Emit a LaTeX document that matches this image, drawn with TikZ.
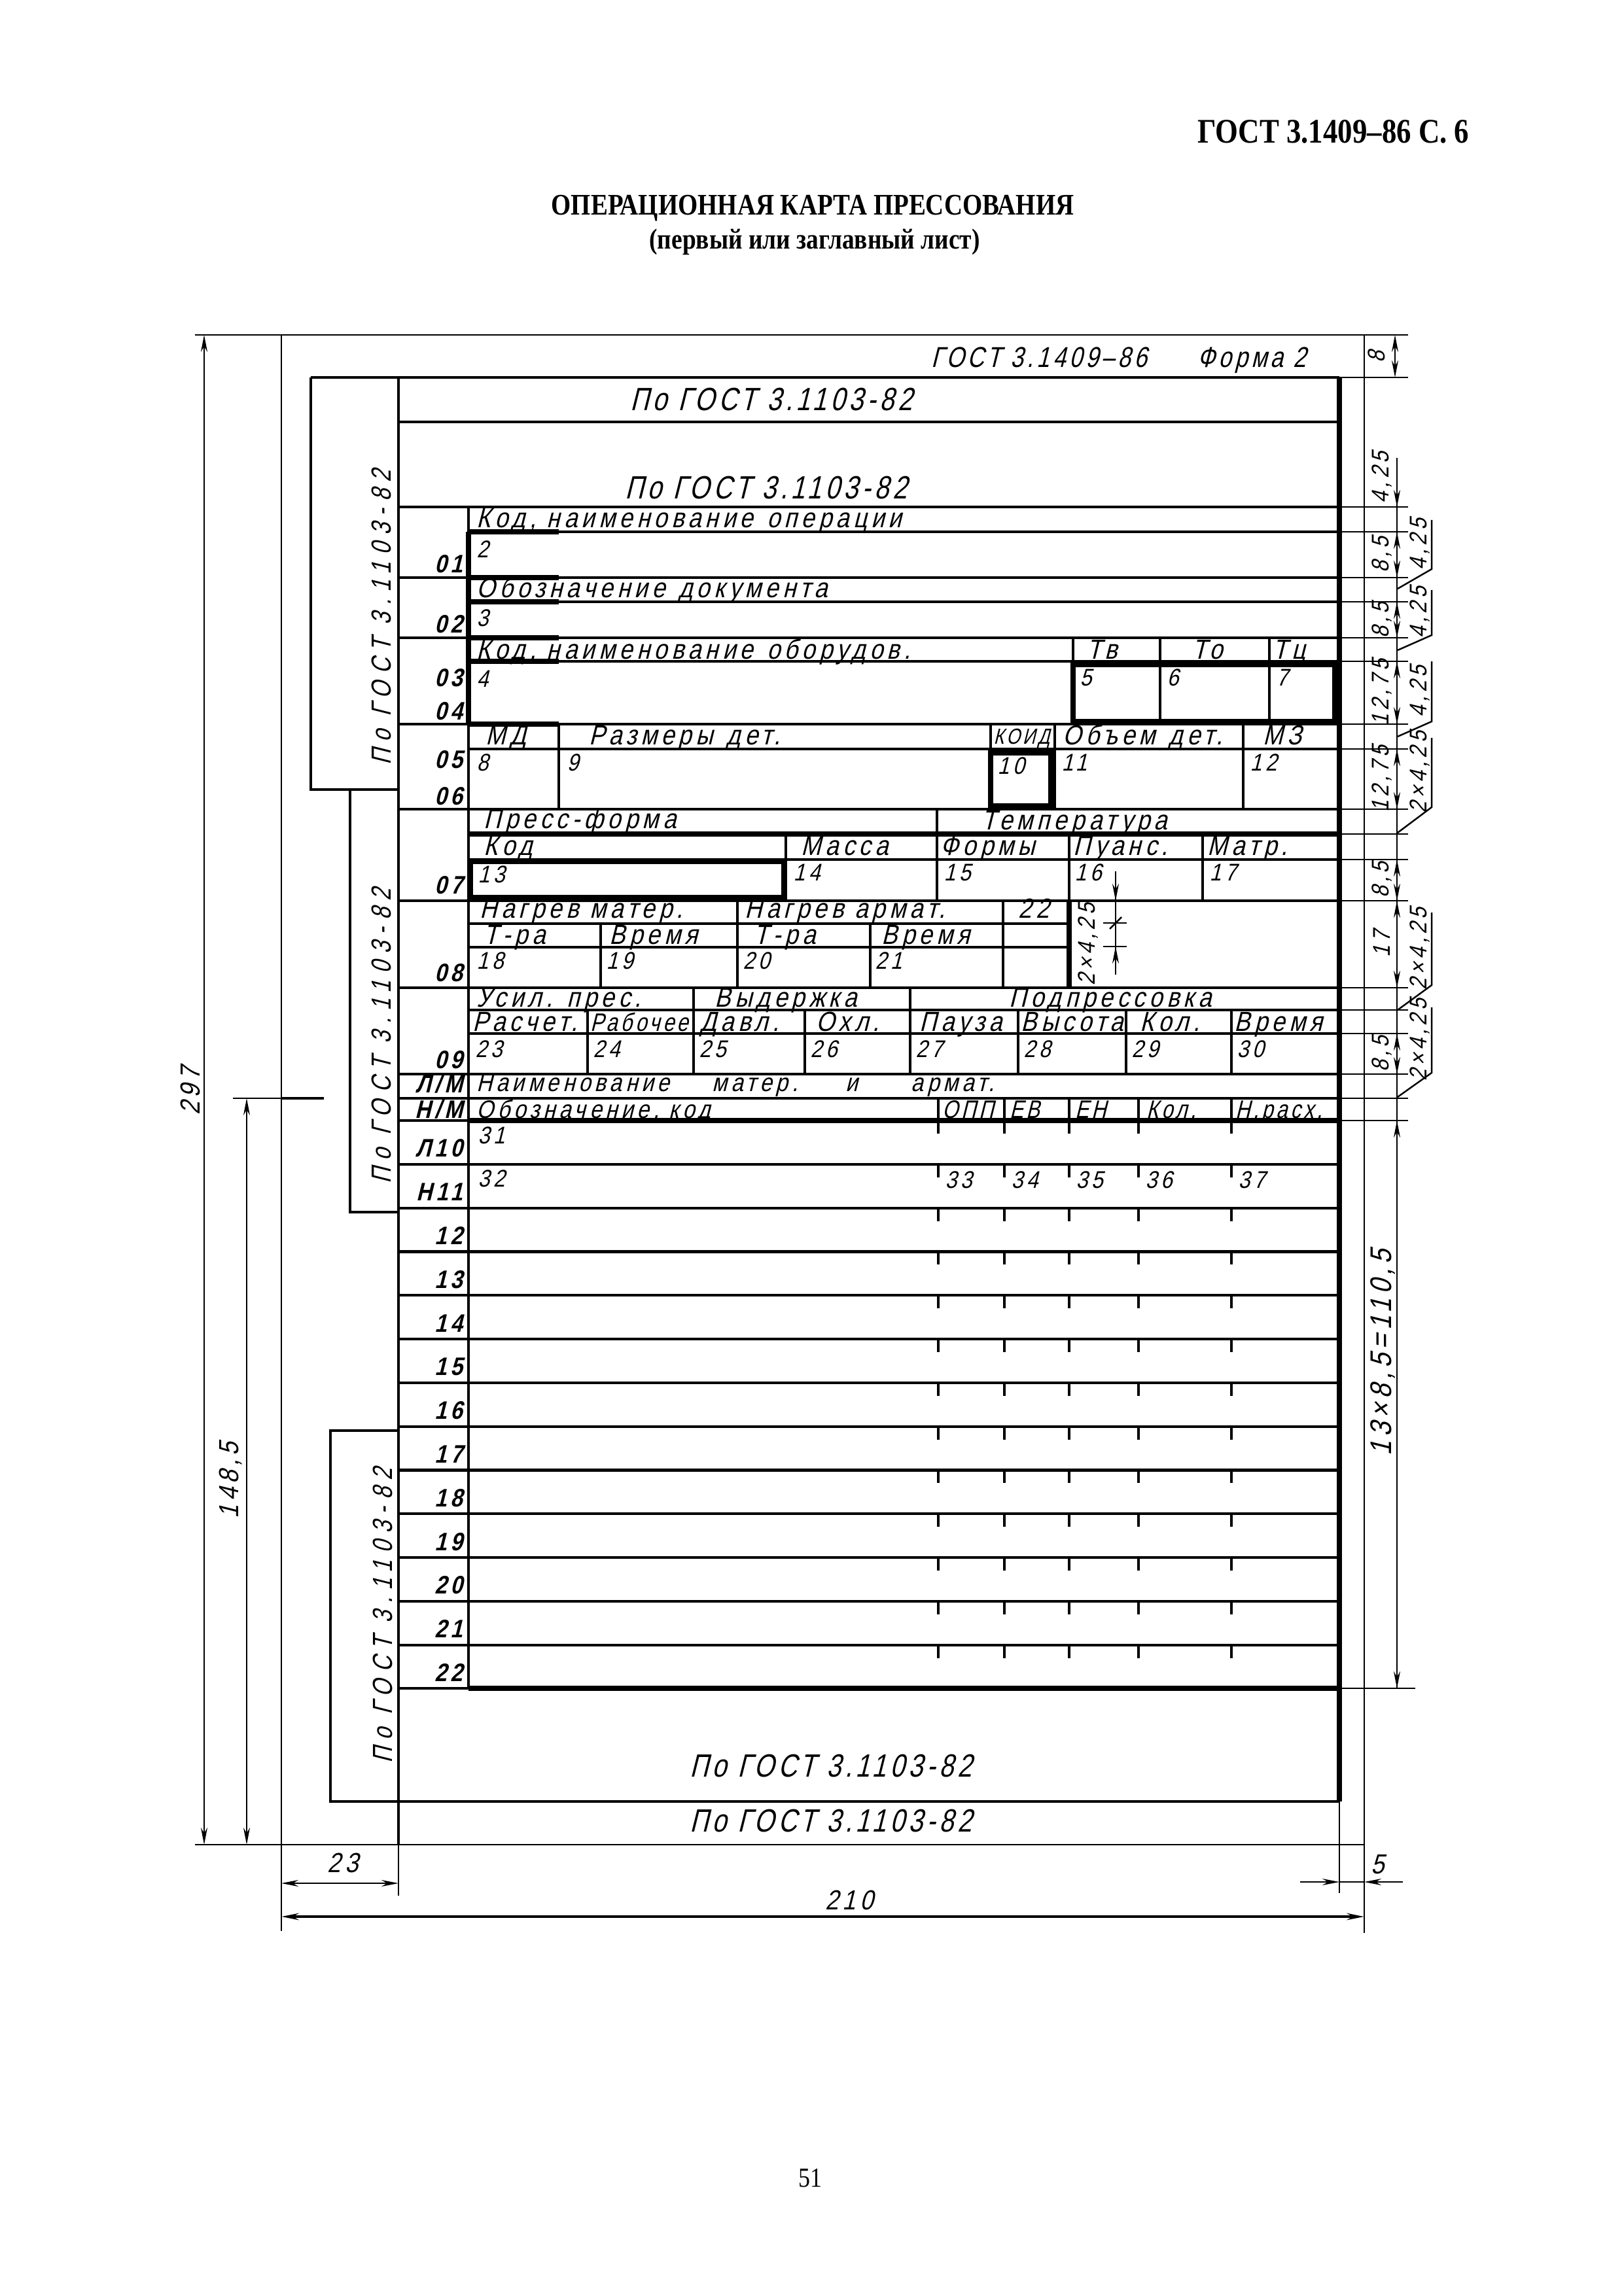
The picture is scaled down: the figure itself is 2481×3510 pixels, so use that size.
\documentclass[tikz,border=0pt]{standalone}
\usepackage{fontspec}
\setmainfont{Liberation Serif}
\newfontfamily\gost[FakeSlant=0.25,FakeStretch=0.86,LetterSpace=15]{Liberation Sans}
\newfontfamily\gostn[FakeSlant=0.25,FakeStretch=0.8,LetterSpace=12]{Liberation Sans}
\newfontfamily\gostw[FakeSlant=0.25,FakeStretch=0.8,LetterSpace=26]{Liberation Sans}
\newfontfamily\hdr[FakeStretch=0.85]{Liberation Serif}
\usetikzlibrary{arrows.meta}

\begin{document}
\begin{tikzpicture}[x=0.01cm, y=-0.01cm,
    frm/.style={line width=0.7pt},
    ln/.style={line width=1.2pt},
    fat/.style={line width=2.2pt},
    cell/.style={font=\gost\fontsize{12}{12}\selectfont, inner sep=0pt, anchor=base west},
    tight/.style={cell, font=\gostn\fontsize{11.5}{12}\selectfont},
    low/.style={cell, font=\gost\fontsize{11}{11}\selectfont},
    num/.style={font=\gost\fontsize{10.5}{11}\selectfont, inner sep=0pt, anchor=north west},
    rowno/.style={font=\gost\bfseries\fontsize{11}{11}\selectfont, inner sep=0pt, anchor=base east},
    big/.style={font=\gostn\fontsize{14}{15}\selectfont, inner sep=0pt, anchor=base west},
    stamp/.style={font=\gostw\fontsize{12}{13}\selectfont, inner sep=0pt, rotate=90},
    dimtxt/.style={font=\gost\fontsize{10.5}{11}\selectfont, inner sep=0pt, rotate=90},
    outtxt/.style={font=\gost\fontsize{12}{13}\selectfont, inner sep=0pt},
    dimarr/.style={frm, {Stealth[length=2.6mm,width=1mm]}-{Stealth[length=2.6mm,width=1mm]}},
    tip/.style={frm, -{Stealth[length=2.6mm,width=1mm]}}
]
    \useasboundingbox (0,0) rectangle (2481,3510);

    % page heading
    \node[font=\hdr\bfseries\fontsize{15}{16}\selectfont, anchor=east, inner sep=0pt] (pagehead) at (2246,201) {ГОСТ 3.1409–86 С. 6};
    \node[font=\hdr\bfseries\fontsize{13}{14}\selectfont, inner sep=0pt] (title) at (1242,318) {ОПЕРАЦИОННАЯ КАРТА ПРЕССОВАНИЯ};
    \node[font=\hdr\bfseries\fontsize{12.5}{13}\selectfont, inner sep=0pt] (subtitle) at (1245,370) {(первый или заглавный лист)};
    \node[font=\hdr\fontsize{12}{13}\selectfont, inner sep=0pt] (pageno) at (1238,3330) {51};

    % sheet frame
    \draw[frm] (298,512) -- (2152,512);
    \draw[frm] (430,512) -- (430,2952);
    \draw[frm] (2085,512) -- (2085,2955);
    \draw[frm] (298,2820) -- (2085,2820);

    % form body
    \draw[ln] (475,577) -- (2047,577);
    \draw[frm] (2047,577) -- (2152,577);
    \draw[fat] (2047,577) -- (2047,2754);
    \draw[frm] (2047,2754) -- (2047,2894);
    \draw[ln] (609,577) -- (609,2820);
    \draw[frm] (609,2820) -- (609,2898);

    % side stamps
    \draw[ln] (475,577) -- (475,1207) -- (609,1207);
    \draw[ln] (535,1207) -- (535,1853) -- (609,1853);
    \draw[ln] (609,2187) -- (505,2187) -- (505,2754) -- (2047,2754);
    \node[stamp] (stamp1) at (583,944) {По ГОСТ 3.1103-82};
    \node[stamp] (stamp2) at (583,1584) {По ГОСТ 3.1103-82};
    \node[stamp] (stamp3) at (585,2470) {По ГОСТ 3.1103-82};

    % horizontal rules
    \draw[ln] (609,645) -- (2047,645);
    \foreach \y in {775,883,975,1107,1237,1377,1510,1642,1679} {
        \draw[ln] (609,\y) -- (2047,\y);
        \draw[frm] (2047,\y) -- (2152,\y);
    }
    \foreach \y in {813,920,1011,1145,1314,1544,1580} {
        \draw[ln] (716,\y) -- (2047,\y);
        \draw[frm] (2047,\y) -- (2152,\y);
    }
    \draw[fat] (716,1275) -- (2047,1275);
    \draw[frm] (2047,1275) -- (2152,1275);
    \draw[ln] (716,1412) -- (1634,1412);
    \draw[ln] (716,1448) -- (1634,1448);
    \foreach \y in {813,883,920,975,1011,1107}
        \draw[fat] (716,\y) -- (854,\y);
    \draw[ln] (609,1713) -- (716,1713);
    \draw[fat] (716,1713) -- (2047,1713);
    \draw[frm] (2047,1713) -- (2152,1713);
    \draw[ln] (609,2581) -- (716,2581);
    \draw[fat] (716,2581) -- (2047,2581);
    \draw[frm] (2047,2581) -- (2163,2581);

    % label column
    \draw[ln] (716,775) -- (716,2581);
    \draw[fat] (716,813) -- (716,1107);

    % cells 03-06
    \draw[ln] (1640,975) -- (1640,1011) (1773,975) -- (1773,1011) (1940,975) -- (1940,1011);
    \draw[fat] (1640,1016) rectangle (2040,1103);
    \draw[ln] (1773,1016) -- (1773,1103) (1940,1016) -- (1940,1103);
    \draw[ln] (854,1107) -- (854,1237) (1514,1107) -- (1514,1145)
              (1612,1107) -- (1612,1237) (1900,1107) -- (1900,1237);
    \draw[fat] (1514,1151) rectangle (1606,1232);

    % cells 07
    \draw[ln] (1432,1237) -- (1432,1377) (1201,1275) -- (1201,1377)
              (1634,1275) -- (1634,1377) (1838,1275) -- (1838,1377);
    \draw[fat] (719,1317) rectangle (1198,1372);

    % cells 08
    \draw[ln] (1127,1377) -- (1127,1510) (918,1412) -- (918,1510)
              (1330,1412) -- (1330,1510) (1533,1377) -- (1533,1510);
    \draw[fat] (1634,1377) -- (1634,1510);

    % cells 09
    \draw[ln] (1060,1510) -- (1060,1642) (1391,1510) -- (1391,1642);
    \foreach \x in {898,1230,1556,1721,1882}
        \draw[ln] (\x,1544) -- (\x,1642);

    % material header
    \foreach \x in {1434,1535,1634,1740,1882}
        \draw[ln] (\x,1679) -- (\x,1713);

    % material rows
    \foreach \k/\lab in {0/Л10,1/Н11,2/12,3/13,4/14,5/15,6/16,7/17,8/18,9/19,10/20,11/21,12/22} {
        \pgfmathsetmacro\yb{1713+66.8*(\k+1)}
        \node[rowno] (row\k) at (708,\yb-11) {\lab};
        \foreach \tx in {1434,1535,1634,1740,1882}
            \draw[ln] (\tx,1713+66.8*\k) -- ++(0,20);
        \ifnum\k<12 \draw[ln] (609,\yb) -- (2047,\yb); \fi
    }

    % texts of the form
    \node[cell, font=\gostn\fontsize{12.5}{13}\selectfont] (gosthead) at (1423,562) {ГОСТ 3.1409–86};
    \node[cell, font=\gostn\fontsize{12.5}{13}\selectfont] (formno) at (1830,562) {Форма 2};
    \node[big] (ref1) at (963,628) {По ГОСТ 3.1103-82};
    \node[big] (ref2) at (955,762) {По ГОСТ 3.1103-82};
    \node[big] (ref3) at (1054,2716) {По ГОСТ 3.1103-82};
    \node[big] (ref4) at (1054,2800) {По ГОСТ 3.1103-82};

    \node[cell] (opname) at (728,807) {Код, наименование\enspace операции};
    \node[cell] (docname) at (728,913) {Обозначение\enspace документа};
    \node[cell] (eqname) at (728,1007) {Код, наименование\enspace оборудов.};
    \node[cell] (tv) at (1661,1007) {Тв};
    \node[cell] (to) at (1822,1007) {То};
    \node[cell] (tc) at (1945,1007) {Тц};

    \node[cell] (md) at (742,1138) {МД};
    \node[cell] (size) at (900,1138) {Размеры\enspace дет.};
    \node[tight, font=\gostn\fontsize{9.5}{10}\selectfont] (koid) at (1518,1137) {КОИД};
    \node[cell] (vol) at (1624,1138) {Объем\enspace дет.};
    \node[cell] (mz) at (1930,1138) {МЗ};

    \node[cell] (pform) at (739,1266) {Пресс-форма};
    \node[cell] (temp) at (1500,1268) {Температура};
    \node[cell] (kod) at (739,1307) {Код};
    \node[cell] (mass) at (1224,1307) {Масса};
    \node[cell] (forms) at (1437,1307) {Формы};
    \node[cell] (punch) at (1640,1307) {Пуанс.};
    \node[cell] (matr) at (1845,1307) {Матр.};

    \node[cell] (heatm) at (733,1403) {Нагрев матер.};
    \node[cell] (heata) at (1138,1403) {Нагрев армат.};
    \node[cell] (f22) at (1556,1403) {22};
    \node[cell] (tra1) at (739,1443) {Т-ра};
    \node[cell] (time1) at (931,1443) {Время};
    \node[cell] (tra2) at (1152,1443) {Т-ра};
    \node[cell] (time2) at (1347,1443) {Время};

    \node[cell] (force) at (728,1539) {Усил. прес.};
    \node[cell] (hold) at (1092,1539) {Выдержка};
    \node[cell] (prepress) at (1542,1539) {Подпрессовка};
    \node[cell] (calc) at (722,1576) {Расчет.};
    \node[tight, font=\gostn\fontsize{11}{11}\selectfont] (work) at (902,1576) {Рабочее};
    \node[cell] (press) at (1070,1576) {Давл.};
    \node[cell] (cool) at (1247,1576) {Охл.};
    \node[cell] (pause) at (1405,1576) {Пауза};
    \node[cell] (hgt) at (1560,1576) {Высота};
    \node[cell] (qty) at (1742,1576) {Кол.};
    \node[cell] (time3) at (1886,1576) {Время};

    \node[low] (matA) at (728,1668) {Наименование};
    \node[low] (matB) at (1088,1668) {матер.};
    \node[low] (matC) at (1292,1668) {и};
    \node[low] (matD) at (1392,1668) {армат.};
    \node[low] (code) at (728,1709) {Обозначение, код};
    \node[tight, font=\gostn\fontsize{11}{11}\selectfont] (opp) at (1440,1709) {ОПП};
    \node[tight, font=\gostn\fontsize{11}{11}\selectfont] (ev) at (1543,1709) {ЕВ};
    \node[tight, font=\gostn\fontsize{11}{11}\selectfont] (en) at (1643,1709) {ЕН};
    \node[tight, font=\gostn\fontsize{11}{11}\selectfont] (kol) at (1752,1709) {Кол.};
    \node[tight, font=\gostn\fontsize{11}{11}\selectfont] (nrash) at (1888,1709) {Н.расх.};

    % field numbers
    \foreach \n/\x/\y in {2/728/826, 3/728/931, 4/728/1024, 5/1650/1022, 6/1783/1022, 7/1950/1022,
                          8/728/1152, 9/866/1152, 10/1524/1157, 11/1622/1152, 12/1910/1152,
                          13/730/1323, 14/1212/1320, 15/1442/1320, 16/1642/1320, 17/1848/1320,
                          18/728/1455, 19/926/1455, 20/1135/1455, 21/1337/1455,
                          23/726/1590, 24/906/1590, 25/1068/1590, 26/1238/1590,
                          27/1399/1590, 28/1564/1590, 29/1729/1590, 30/1890/1590,
                          31/730/1722, 32/730/1788, 33/1444/1790, 34/1545/1790,
                          35/1644/1790, 36/1750/1790, 37/1892/1790}
        \node[num] (f\n) at (\x,\y) {\n};

    % row numbers
    \foreach \lab/\y [count=\i] in {{01}/875, {02}/967, {03}/1049, {04}/1100, {05}/1174, {06}/1230,
                                     {07}/1366, {08}/1500, {09}/1633, {Л/М}/1670, {Н/М}/1709}
        \node[rowno] (lab\i) at (708,\y) {\lab};

    % inner dimension of row 08
    \draw[frm] (1705,1332) -- (1705,1490);
    \draw[tip] (1705,1332) -- (1705,1377);
    \draw[tip] (1705,1490) -- (1705,1447);
    \draw[frm] (1686,1411) -- (1722,1411) (1686,1447) -- (1722,1447);
    \draw[frm] (1696,1420) -- (1714,1402);
    \node[dimtxt] (d08) at (1663,1444) {2×4,25};

    % right dimension chain
    \draw[dimarr] (2132,512) -- (2132,577);
    \node[dimtxt] (d8) at (2104,546) {8};
    \draw[frm] (2135,700) -- (2135,2581);
    \draw[tip] (2135,700) -- (2135,775);
    \node[dimtxt] (d425) at (2112,730) {4,25};
    \foreach \a/\b in {813/883, 920/975, 1011/1107, 1145/1237, 1314/1377, 1377/1510, 1580/1642, 1713/2581}
        \draw[dimarr] (2135,\a) -- (2135,\b);
    \foreach \t/\y [count=\i] in {{8,5}/848, {8,5}/948, {12,75}/1059, {12,75}/1191, {8,5}/1345, {17}/1443, {8,5}/1611}
        \node[dimtxt] (dc\i) at (2112,\y) {\t};
    \node[dimtxt, font=\gost\fontsize{13}{14}\selectfont] (dtotal) at (2113,2068) {13×8,5=110,5};

    % leaders for header rows
    \foreach \ya/\yb/\yc/\t [count=\i] in {795/870/900/{4,25}, 902/971/994/{4,25}, 1011/1103/1126/{4,25},
                                          1128/1234/1273/{2×4,25}, 1395/1506/1544/{2×4,25}, 1540/1640/1677/{2×4,25}} {
        \draw[frm] (2136,\yc) -- (2188,\yb) -- (2188,\ya);
        \node[dimtxt] (ld\i) at (2170,{(\ya+\yb)/2}) {\t};
    }

    % left dimensions
    \draw[dimarr] (312,512) -- (312,2820);
    \node[dimtxt, font=\gost\fontsize{12}{13}\selectfont] (d297) at (291,1668) {297};
    \draw[frm] (356,1679) -- (430,1679);
    \draw[ln] (430,1679) -- (495,1679);
    \draw[dimarr] (377,1679) -- (377,2820);
    \node[dimtxt, font=\gost\fontsize{12}{13}\selectfont] (d148) at (352,2263) {148,5};

    % bottom dimensions
    \draw[dimarr] (430,2879) -- (609,2879);
    \node[outtxt] (d23) at (524,2848) {23};
    \draw[dimarr, line width=1.2pt] (430,2930) -- (2085,2930);
    \node[outtxt] (d210) at (1298,2905) {210};
    \draw[tip] (1987,2877) -- (2047,2877);
    \draw[frm] (2047,2877) -- (2085,2877);
    \draw[tip] (2144,2877) -- (2085,2877);
    \node[outtxt] (d5) at (2106,2850) {5};

\end{tikzpicture}
\end{document}
